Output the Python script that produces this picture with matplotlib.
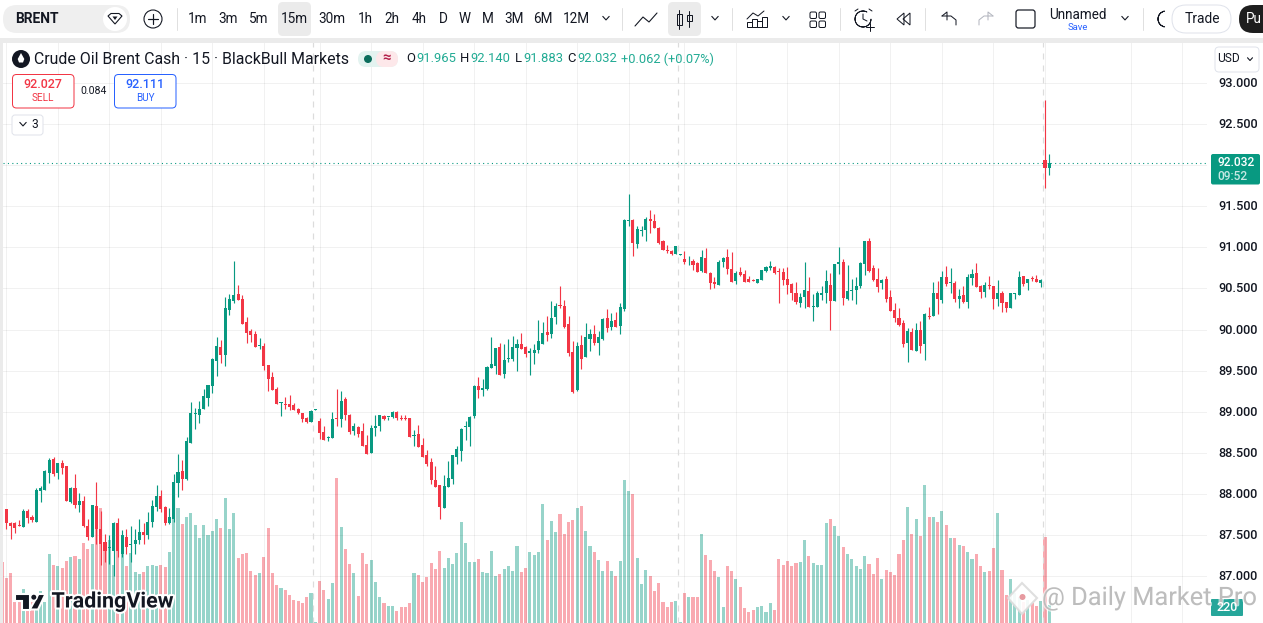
import numpy as np
import matplotlib
matplotlib.use("Agg")
import matplotlib.pyplot as plt
from matplotlib.patches import Rectangle, FancyBboxPatch, Circle, Polygon, Wedge
from matplotlib.transforms import ScaledTranslation
import matplotlib.patheffects as pe

plt.rcParams['font.family'] = ['Roboto', 'DejaVu Sans']
nan = float('nan')

opens = [nan,
87.81,87.65,87.65,87.62,87.60,87.79,87.72,87.66,88.03,88.05,
88.25,88.43,88.25,88.37,88.34,87.90,88.07,87.86,87.91,87.61,
87.48,87.85,87.57,87.41,87.34,87.30,87.65,87.27,87.48,87.38,
87.39,87.44,87.54,87.50,87.66,87.84,87.97,87.84,87.64,87.70,
88.13,88.28,88.18,88.62,88.97,88.96,89.03,89.17,89.31,89.62,
89.79,89.69,90.24,90.35,90.43,90.37,90.09,89.98,89.94,89.80,
89.80,89.57,89.42,89.28,89.10,89.09,89.09,89.08,89.03,88.99,
88.92,88.87,89.02,88.89,88.75,88.68,88.68,88.92,88.91,89.15,
88.96,88.76,88.81,88.76,88.59,88.50,88.80,88.83,88.95,88.93,
88.94,89.00,88.92,88.92,88.92,88.70,88.73,88.59,88.47,88.39,
88.17,88.11,87.83,88.08,88.18,88.45,88.52,88.81,88.81,88.95,
89.31,89.26,89.28,89.53,89.56,89.79,89.46,89.64,89.64,89.78,
89.82,89.79,89.72,89.71,89.75,89.82,89.97,89.95,90.15,90.30,
90.29,90.07,89.73,89.26,89.81,89.67,89.89,89.95,89.84,89.89,
90.14,90.03,90.12,90.04,90.25,91.32,91.33,91.04,91.20,91.21,
91.35,91.32,91.24,91.08,90.97,90.96,90.92,90.91,90.86,90.84,
90.83,90.81,90.71,90.87,90.69,90.58,90.54,90.82,90.88,90.74,
90.59,90.70,90.67,90.61,90.60,90.56,90.60,90.71,90.75,90.76,
90.71,90.70,90.61,90.55,90.45,90.32,90.39,90.47,90.27,90.27,
90.42,90.44,90.54,90.35,90.80,90.82,90.37,90.47,90.48,90.53,
90.80,91.08,90.75,90.61,90.56,90.61,90.39,90.24,90.14,90.08,
89.83,89.97,89.74,90.00,89.82,90.17,90.16,90.44,90.36,90.64,
90.56,90.56,90.37,90.42,90.33,90.63,90.69,90.53,90.46,90.54,
90.53,90.37,90.44,90.33,90.26,90.43,90.42,90.65,90.56,90.62,
90.61,90.56,92.06,91.965]

closes = [nan,
87.65,87.61,87.59,87.61,87.79,87.71,87.68,88.05,88.07,88.28,
88.41,88.24,88.37,88.31,87.91,88.07,87.86,87.91,87.61,87.48,
87.86,87.57,87.39,87.31,87.35,87.65,87.30,87.50,87.35,87.39,
87.44,87.53,87.50,87.66,87.85,87.97,87.82,87.64,87.72,88.14,
88.26,88.18,88.64,88.98,88.98,89.03,89.19,89.32,89.64,89.80,
89.69,90.26,90.37,90.42,90.36,90.07,89.96,89.93,89.79,89.81,
89.56,89.40,89.26,89.09,89.10,89.08,89.06,89.02,88.99,88.91,
88.87,89.01,89.03,88.74,88.65,88.69,88.91,88.91,89.13,88.96,
88.75,88.83,88.73,88.58,88.48,88.80,88.83,88.96,88.91,88.94,
89.00,88.92,88.91,88.91,88.69,88.72,88.57,88.45,88.36,88.17,
88.08,87.84,88.09,88.19,88.47,88.55,88.79,88.83,88.94,89.31,
89.26,89.29,89.54,89.58,89.78,89.45,89.63,89.65,89.79,89.82,
89.76,89.70,89.74,89.75,89.86,89.96,89.93,90.14,90.29,90.29,
90.03,89.71,89.24,89.80,89.64,89.91,89.95,89.84,89.91,90.13,
90.02,90.10,90.03,90.27,91.33,91.33,91.05,91.22,91.21,91.35,
91.32,91.24,91.05,90.97,90.96,90.92,91.02,90.92,90.82,90.85,
90.78,90.70,90.88,90.69,90.57,90.55,90.82,90.87,90.74,90.58,
90.69,90.66,90.58,90.58,90.59,90.62,90.72,90.76,90.77,90.69,
90.70,90.60,90.54,90.44,90.33,90.39,90.48,90.27,90.28,90.44,
90.45,90.59,90.35,90.80,90.82,90.38,90.47,90.48,90.53,90.81,
91.08,90.71,90.60,90.52,90.60,90.37,90.22,90.14,90.05,89.82,
89.98,89.75,90.00,89.80,90.19,90.15,90.45,90.37,90.64,90.55,
90.58,90.37,90.41,90.33,90.64,90.67,90.52,90.46,90.54,90.53,
90.37,90.45,90.32,90.26,90.44,90.44,90.64,90.55,90.61,90.61,
90.58,90.60,91.96,92.032]

highs = [nan,
87.82,87.66,87.66,87.68,87.81,87.81,87.74,88.07,88.09,88.29,
88.44,88.45,88.37,88.41,88.34,88.08,88.24,88.01,87.97,87.70,
87.86,88.14,87.79,87.51,87.50,87.66,87.71,87.56,87.57,87.61,
87.57,87.70,87.65,87.78,87.93,88.11,88.05,87.85,87.83,88.24,
88.48,88.41,88.69,89.12,89.04,89.13,89.28,89.32,89.65,89.91,
89.87,90.40,90.43,90.83,90.54,90.42,90.15,90.01,89.98,89.90,
89.84,89.57,89.48,89.30,89.12,89.18,89.20,89.10,89.04,88.99,
88.93,89.02,89.03,88.92,88.82,88.70,89.00,89.28,89.25,89.18,
88.97,88.86,88.83,88.86,88.72,88.84,88.96,88.96,88.96,88.94,
89.01,89.01,88.96,88.96,88.92,88.78,88.84,88.68,88.53,88.44,
88.34,88.11,88.23,88.40,88.47,88.58,88.80,88.89,88.95,89.32,
89.42,89.40,89.56,89.91,89.78,89.84,89.82,89.89,89.92,89.89,
89.96,89.80,89.78,89.82,90.12,90.09,90.17,90.35,90.32,90.53,
90.36,90.17,89.86,89.85,89.93,90.08,90.01,90.06,89.98,90.14,
90.25,90.20,90.21,90.32,91.35,91.65,91.35,91.26,91.26,91.37,
91.46,91.41,91.25,91.09,91.03,90.97,91.02,90.92,90.95,90.90,
90.86,90.82,90.97,90.99,90.70,90.64,90.84,90.88,90.98,90.94,
90.71,90.76,90.72,90.65,90.62,90.62,90.72,90.77,90.83,90.77,
90.75,90.75,90.76,90.56,90.58,90.45,90.82,90.64,90.43,90.47,
90.53,90.73,90.69,90.80,91.00,90.86,90.78,90.62,90.64,90.82,
91.08,91.11,90.78,90.75,90.62,90.65,90.48,90.32,90.26,90.11,
90.02,90.02,90.08,90.10,90.20,90.28,90.58,90.59,90.71,90.77,
90.75,90.59,90.49,90.53,90.67,90.74,90.81,90.54,90.58,90.65,
90.53,90.60,90.47,90.33,90.45,90.44,90.71,90.65,90.61,90.65,
90.66,90.62,92.79,92.14]

lows = [nan,
87.57,87.45,87.52,87.61,87.60,87.65,87.66,87.66,87.90,88.05,
88.13,88.22,88.18,88.24,87.91,87.89,87.83,87.78,87.60,87.44,
87.48,87.39,87.14,87.17,87.15,87.00,87.23,87.23,87.27,87.17,
87.27,87.39,87.39,87.45,87.60,87.79,87.78,87.62,87.63,87.66,
87.96,88.05,88.17,88.62,88.79,88.86,89.03,89.07,89.23,89.43,
89.59,89.56,90.18,90.32,90.36,90.07,89.84,89.85,89.79,89.76,
89.51,89.25,89.26,89.09,88.95,89.03,89.02,89.02,88.97,88.87,
88.86,88.87,89.02,88.67,88.65,88.64,88.68,88.82,88.81,88.90,
88.73,88.72,88.69,88.58,88.48,88.50,88.70,88.76,88.90,88.90,
88.92,88.90,88.90,88.90,88.69,88.58,88.57,88.45,88.34,88.12,
88.08,87.69,87.83,88.08,88.12,88.36,88.40,88.65,88.58,88.92,
89.17,89.19,89.26,89.53,89.46,89.45,89.41,89.60,89.62,89.50,
89.76,89.67,89.45,89.58,89.71,89.82,89.86,89.90,90.07,90.26,
90.02,89.68,89.23,89.25,89.52,89.67,89.74,89.81,89.69,89.87,
89.97,89.99,90.03,89.95,90.23,91.26,90.90,90.99,91.14,91.08,
91.18,91.24,91.04,90.97,90.93,90.91,90.92,90.91,90.80,90.79,
90.73,90.70,90.70,90.69,90.49,90.50,90.54,90.76,90.67,90.58,
90.55,90.65,90.58,90.58,90.59,90.56,90.60,90.70,90.72,90.67,
90.32,90.54,90.43,90.36,90.31,90.27,90.26,90.27,90.10,90.27,
90.36,90.32,89.99,90.35,90.67,90.30,90.36,90.36,90.31,90.50,
90.66,90.70,90.59,90.46,90.49,90.33,90.22,90.09,90.04,89.79,
89.61,89.75,89.74,89.72,89.63,90.13,90.16,90.19,90.32,90.53,
90.44,90.33,90.26,90.32,90.26,90.54,90.52,90.38,90.39,90.49,
90.25,90.29,90.21,90.21,90.26,90.37,90.42,90.53,90.48,90.59,
90.58,90.52,91.72,91.883]

volumes = [732,
540,600,252,252,408,296,256,316,384,256,
828,696,684,660,744,792,804,768,960,888,
948,1124,1380,884,996,696,876,836,684,840,
612,588,612,684,696,684,696,672,852,1296,
1380,1188,1272,1320,1176,1020,1176,1056,1104,1248,
1140,1500,1128,1320,780,828,840,624,576,600,
792,1140,600,456,420,396,336,276,264,240,
312,360,12,504,396,288,480,1740,1152,888,
708,600,324,840,708,756,492,312,240,204,
204,144,192,192,240,600,576,492,552,720,
648,864,660,780,708,840,1212,960,732,732,
768,612,600,864,564,588,648,684,624,924,
612,660,852,816,852,1428,996,1224,1092,1308,
1068,1212,1236,1380,1404,1104,924,852,756,624,
744,624,564,744,1716,1584,1548,780,468,636,
564,384,480,252,192,252,264,12,360,312,
312,312,1068,816,756,624,552,192,684,624,
528,432,180,132,156,192,204,132,240,156,
768,696,744,684,720,732,996,804,720,696,
696,1200,1248,1164,1044,912,828,768,684,648,
804,708,588,780,528,636,612,576,828,996,
1392,1068,1248,1044,1656,1272,1272,1212,1344,1176,
1020,1020,936,924,852,768,828,684,612,624,
900,1320,636,336,528,356,316,256,276,236,
204,264,1032,220]

price_ticks = [87.0, 87.5, 88.0, 88.5, 89.0, 89.5, 90.0, 90.5, 91.0, 91.5, 92.0, 92.5, 93.0]
time_grid = [1, 13, 25, 37, 49, 61, 74, 86, 98, 110, 122, 134, 146, 159, 171, 183, 195, 207, 219, 231, 243, 263, 275]
session_breaks = [72.5, 157.6, 242.6]
intervals = ['1m', '3m', '5m', '15m', '30m', '1h', '2h', '4h', 'D', 'W', 'M', '3M', '6M', '12M']
interval_x = [198, 228, 259, 294, 332, 365, 392, 419, 443, 465, 488, 514, 543, 576]

GREEN = '#089981'
RED = '#F23645'
BLUE = '#2962FF'
DARK = '#131722'
W, H = 1263, 623
PX = 0.72

fig = plt.figure(figsize=(W / 100, H / 100), dpi=100, facecolor='white')
L, R, T, B = 3, 1207, 42, 623
rect = [L / W, 1 - B / H, (R - L) / W, (B - T) / H]
vol = fig.add_axes(rect, zorder=1)
ax = fig.add_axes(rect, zorder=2)
ax.patch.set_visible(False)

n = len(opens)
xs = np.arange(n)
o, c, hi, lo, v = map(np.array, (opens, closes, highs, lows, volumes))
up = c >= o
colors = np.where(up, GREEN, RED)

pitch = 4.292
xlim = ((L - 2.0) / pitch, (R - 2.0) / pitch)
ppu = 82.17
ylim = (93 - (B - 83) / ppu, 93 + (83 - T) / ppu)

vol.bar(xs, v, width=0.72, color=colors, alpha=0.42, linewidth=0)
vol.set_xlim(xlim)
vol.set_ylim(0, (B - T) * 12)
vol.axis('off')

ax.set_xlim(xlim)
ax.set_ylim(ylim)
for g in time_grid:
    ax.axvline(g, color='black', alpha=0.055, lw=PX, zorder=0)
for p in price_ticks:
    ax.axhline(p, color='black', alpha=0.055, lw=PX, zorder=0)
for s in session_breaks:
    ax.axvline(s, color='#dcdcdc', lw=PX * 1.2, ls=(0, (5, 5)), zorder=1)

ok = ~np.isnan(o)
wicks = ax.vlines(xs[ok], lo[ok], hi[ok], colors=colors[ok], lw=PX * 1.15, zorder=3)
wicks.set_snap(True)
ax.bar(xs[ok], np.maximum(np.abs(c - o)[ok], 0.012), bottom=np.minimum(o, c)[ok], width=0.72,
       color=colors[ok], linewidth=0, zorder=4)
last_line = ax.axhline(closes[-1], color=GREEN, lw=PX * 1.1, ls=(0, (1, 3)), zorder=2)
last_line.set_snap(True)
last_line.set_dash_capstyle('butt')

for s in ax.spines.values():
    s.set_visible(False)
ax.set_xticks([])
ax.yaxis.tick_right()
ax.set_yticks(price_ticks)
# the 92.000 label is hidden behind the last-price tag in the reference
ax.set_yticklabels(['' if p == 92.0 else f'{p:.3f}' for p in price_ticks],
                   fontsize=12 * PX * 1.06, color=DARK, fontweight='medium')
ax.tick_params(axis='y', length=0, pad=12 * PX * 0.98)
lift = ScaledTranslation(0, 1 / 100, fig.dpi_scale_trans)
for tick in ax.yaxis.get_major_ticks():
    tick.label2.set_transform(tick.label2.get_transform() + lift)

# interface chrome in pixel coordinates
ov = fig.add_axes([0, 0, 1, 1], zorder=10)
ov.set_xlim(0, W)
ov.set_ylim(H, 0)
ov.axis('off')
ov.patch.set_visible(False)


def rrect(x0, y0, x1, y1, r=4, fc='white', ec='none', lw=1.0, z=2, alpha=None):
    p = FancyBboxPatch((x0 + r, y0 + r), x1 - x0 - 2 * r, y1 - y0 - 2 * r,
                       boxstyle=f'round,pad={r},rounding_size={r}', fc=fc, ec=ec, lw=lw * PX, zorder=z, alpha=alpha)
    ov.add_patch(p)


def txt(x, y, s, size=13, color=DARK, ha='center', weight='normal', z=5, **kw):
    return ov.text(x, y, s, fontsize=size * PX, color=color, ha=ha, va='center', fontweight=weight, zorder=z, **kw)


def line(xs_, ys_, color=DARK, lw=1.2, z=4, **kw):
    ov.plot(xs_, ys_, color=color, lw=lw * PX, zorder=z, solid_capstyle='round', **kw)


def chevron(x, y, s=3.2, color=DARK):
    line([x - s, x, x + s], [y - s * 0.5, y + s * 0.6, y - s * 0.5], color=color, lw=1.1)


ov.add_patch(Rectangle((0, 0), W, 38, fc='white', ec='none', zorder=1))
ov.add_patch(Rectangle((0, 38), W, 4.5, fc='#ebebeb', ec='none', zorder=1))
ov.add_patch(Rectangle((0, 38), 3, H, fc='#ebebeb', ec='none', zorder=1))

rrect(3, 5, 130, 33, r=14, fc='#efefef')
txt(15, 19, 'BRENT', 13.8, ha='left', weight='bold')
ov.add_patch(Circle((115, 19), 12, fc='white', ec='none', zorder=3))
ov.add_patch(Polygon([[108, 16], [111, 13.5], [119, 13.5], [122, 16], [115, 24]], closed=True, fc='white', ec=DARK, lw=1.1 * PX, zorder=4))
ov.add_patch(Polygon([[112.5, 16.5], [117.5, 16.5], [115, 20]], closed=True, fc=DARK, ec='none', zorder=5))
ov.add_patch(Circle((153, 19), 9, fc='white', ec=DARK, lw=1.1 * PX, zorder=3))
line([148, 158], [19, 19]); line([153, 153], [14, 24])
for sx in (177, 622, 732, 840, 925, 1143):
    line([sx, sx], [8, 30], color='#e0e0e0', lw=1)
rrect(278, 2, 311, 36, r=5, fc='#ebebeb')
rrect(668, 2, 701, 36, r=5, fc='#ebebeb')
for s, x in zip(intervals, interval_x):
    txt(x, 19, s, 13.5)
chevron(606, 18)
line([635, 643, 649, 657], [26, 17, 22, 13], lw=1.1)
line([679, 679], [10, 29], lw=1); ov.add_patch(Rectangle((676.5, 14), 5, 11, fc='none', ec=DARK, lw=PX, zorder=4))
line([689, 689], [11, 27], lw=1); ov.add_patch(Rectangle((686.5, 15), 5, 6, fc='none', ec=DARK, lw=PX, zorder=4))
chevron(715, 18)
line([747, 753, 758, 764], [19, 13, 16, 11], lw=1)
for bx, by in ((747, 22), (752, 19), (757, 21), (762, 17)):
    ov.add_patch(Rectangle((bx, by), 4.5, 27 - by, fc='none', ec=DARK, lw=PX, zorder=4))
chevron(786, 18)
for gx, gy in ((810, 12), (819, 12), (810, 21), (819, 21)):
    rrect(gx, gy, gx + 6.5, gy + 6.5, r=1.5, fc='none', ec=DARK, lw=1)
ov.add_patch(Wedge((863, 19), 8, 0, 300, width=0.01, fc='none', ec=DARK, lw=PX * 0.9, zorder=4))
line([863, 863, 867], [14, 19, 21], lw=1)
line([866, 874], [27, 27], lw=1); line([870, 870], [23, 31], lw=1)
line([855, 858], [11, 9], lw=1); line([869, 872], [9, 11], lw=1)
ov.add_patch(Polygon([[904, 13], [897, 19], [904, 25]], closed=True, fc='none', ec=DARK, lw=1 * PX, zorder=4))
ov.add_patch(Polygon([[910, 13], [903, 19], [910, 25]], closed=True, fc='none', ec=DARK, lw=1 * PX, zorder=4))
line([942, 947, 947], [16, 12, 20], lw=1)
line([942, 951, 956, 956], [16, 16, 20, 25], lw=1)
line([993, 988, 988], [16, 12, 20], color='#b2b5be', lw=1)
line([993, 984, 979, 979], [16, 16, 20, 25], color='#b2b5be', lw=1)
rrect(1016, 10, 1035, 28, r=2.5, fc='none', ec=DARK, lw=1.2)
txt(1078, 15, 'Unnamed', 13.5)
txt(1078, 27, 'Save', 9.5, color=BLUE)
chevron(1125, 18)
ov.add_patch(Wedge((1166, 19), 8, 100, 260, width=0.01, fc='none', ec=DARK, lw=PX, zorder=4))
rrect(1172, 5, 1231, 33, r=14, fc='white', ec='#e0e3eb')
txt(1202, 19, 'Trade', 13.8)
rrect(1239, 5, 1290, 33, r=14, fc='#1e1e1e')
txt(1246, 19, 'Pu', 13.5, color='white', ha='left')

# legend line
ov.add_patch(Circle((21, 59), 9, fc=DARK, ec='none', zorder=3))
ov.add_patch(Polygon([[21, 53], [24.3, 59], [23, 62.5], [19, 62.5], [17.7, 59]], closed=True, fc='white', ec='none', zorder=4))
txt(34, 59, 'Crude Oil Brent Cash · 15 · BlackBull Markets', 15.95, ha='left')
rrect(358, 51, 398, 67, r=8, fc='#e3f3f0')
rrect(376, 51, 398, 67, r=8, fc='#fde8ea')
ov.add_patch(Circle((368, 59), 4, fc='#0b6d5c', ec='none', zorder=4))
txt(387, 58, '≈', 15, color='#b3204a', weight='bold')
TEAL = '#22ab94'
ohlc = [(406, 'O', 416, '91.965'), (460, 'H', 470, '92.140'), (515, 'L', 523, '91.883'), (567, 'C', 577, '92.032')]
for lx, ls, vx, vs in ohlc:
    txt(lx, 59, ls, 13, ha='left')
    txt(vx, 59, vs, 13, ha='left', color=TEAL)
txt(621, 59, '+0.062 (+0.07%)', 12.8, ha='left', color=TEAL)

# order buttons
rrect(12.5, 74.5, 74, 108, r=4, fc='white', ec=RED, lw=1)
txt(43, 84, '92.027', 12.5, color=RED, weight='medium')
txt(43, 98, 'SELL', 10, color=RED)
txt(94, 91, '0.084', 10.5)
rrect(114.5, 74.5, 176, 108, r=4, fc='white', ec=BLUE, lw=1)
txt(145, 84, '92.111', 12.5, color=BLUE, weight='medium')
txt(145, 98, 'BUY', 10, color=BLUE)
rrect(12, 115, 43, 135, r=3, fc='white', ec='#e0e3eb', lw=1)
chevron(23, 124)
txt(35, 125, '3', 12)
rrect(1215, 47, 1259, 72, r=4, fc='white', ec='#e0e3eb', lw=1)
txt(1228, 59, 'USD', 12)
chevron(1250, 59, s=2.5)

# last price and volume labels
rrect(1211, 154, 1260, 184.5, r=2, fc=GREEN)
txt(1236.5, 162.5, '92.032', 12, color='white', weight='medium')
txt(1233, 177, '09:52', 12, color='#c6e8e3', weight='medium')

# watermarks
wm = [pe.withStroke(linewidth=3, foreground='white')]
logo = '#131722'
for poly in ([[15, 594], [29.5, 594], [29.5, 609.5], [22, 609.5], [22, 600.5], [15, 600.5]],
             [[38.5, 594], [45.5, 594], [38, 609.5], [29.8, 609.5]]):
    ov.add_patch(Polygon(poly, closed=True, fc=logo, ec='white', lw=1.5, zorder=6))
ov.add_patch(Circle((33.8, 597.2), 3.2, fc=logo, ec='white', lw=1, zorder=6))
txt(51.5, 602, 'TradingView', 21.5, color=logo, ha='left', weight='bold', z=6, path_effects=wm)
ov.add_patch(Polygon([[1022, 583], [1037, 598], [1022, 614], [1008, 598]], closed=True, fc='white', ec='#dcdcdc', lw=1.5, alpha=0.9, zorder=6))
ov.add_patch(Circle((1022.5, 597), 3, fc='#e79aa0', ec='none', zorder=7))
txt(1042, 598, '@ Daily Market Pro', 25.4, color='#bdbdbd', ha='left', z=8,
    path_effects=[pe.withStroke(linewidth=2, foreground='white', alpha=0.6)])
rrect(1211, 599, 1243, 616, r=1, fc='#26a69a', z=7)
txt(1227, 607.5, '220', 12.5, color='white', z=9, weight='medium')

fig.savefig('out.png', dpi=100)
